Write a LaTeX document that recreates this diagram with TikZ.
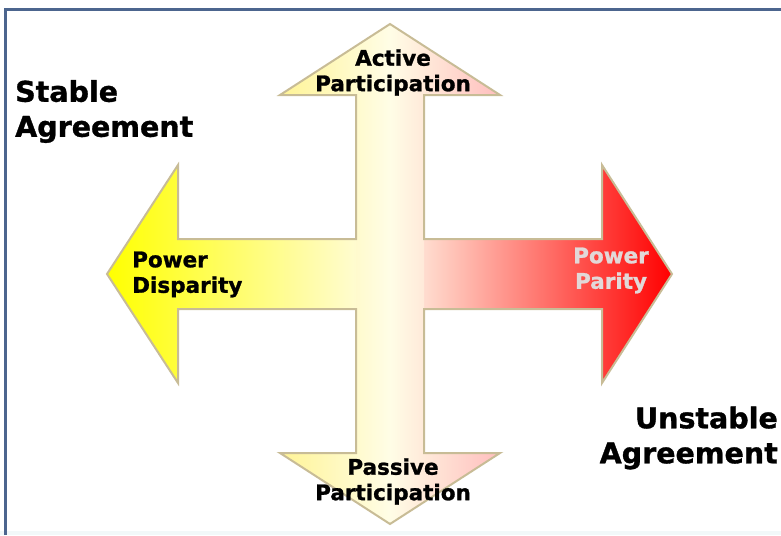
\documentclass[tikz,border=0pt]{standalone}
\usepackage{fontspec}
\setmainfont{DejaVu Sans}[BoldFeatures={FakeBold=1.2}]
\definecolor{framec}{RGB}{76,101,142}
\definecolor{edgec}{RGB}{200,188,150}
\definecolor{hleft}{RGB}{255,255,0}
\definecolor{hmid}{RGB}{255,251,236}
\definecolor{hright}{RGB}{255,0,0}
\definecolor{vleft}{RGB}{255,244,150}
\definecolor{vmid}{RGB}{255,253,230}
\definecolor{vright}{RGB}{255,190,190}
\definecolor{paritytxt}{RGB}{226,216,216}
\definecolor{bottomstrip}{RGB}{242,248,249}
\begin{document}
\begin{tikzpicture}[x=1pt,y=-1pt,
  outline/.style={draw=edgec, line width=2pt, line join=miter},
  lbl/.style={font=\bfseries\fontsize{21.5}{25.5}\selectfont, inner sep=0pt, align=center},
  big/.style={font=\bfseries\fontsize{28.5}{35}\selectfont, inner sep=0pt},
  frameline/.style={draw=framec, line width=2.5pt}]
\useasboundingbox (0,0) rectangle (781,535);
\fill[bottomstrip] (0,531) rectangle (781,535);
% horizontal arrow fill
\shade[left color=hleft, right color=hright, middle color=hmid]
  (107,274) -- (178,165) -- (178,239) -- (602,239) -- (602,165) -- (672,274)
  -- (602,383) -- (602,309) -- (178,309) -- (178,383) -- cycle;
% vertical arrow fill
\shade[left color=vleft, right color=vright, middle color=vmid]
  (390,24) -- (500,95) -- (424,95) -- (424,453) -- (500,453) -- (390,524)
  -- (280,453) -- (356,453) -- (356,95) -- (280,95) -- cycle;
% union outline
\draw[outline] (390,24) -- (500,95) -- (424,95) -- (424,239) -- (602,239) -- (602,165)
  -- (672,274) -- (602,383) -- (602,309) -- (424,309) -- (424,453) -- (500,453)
  -- (390,524) -- (280,453) -- (356,453) -- (356,309) -- (178,309) -- (178,383)
  -- (107,274) -- (178,165) -- (178,239) -- (356,239) -- (356,95) -- (280,95) -- cycle;
% frame
\draw[frameline] (5.5,535) -- (5.5,9.5) -- (781,9.5);
% labels
\node[lbl] (active) at (393,72.5) {Active\\Participation};
\node[lbl] (passive) at (393,481.5) {Passive\\Participation};
\node[lbl, align=left, anchor=west] (disparity) at (132,274.5) {Power\\Disparity};
\node[lbl, text=paritytxt] (parity) at (611,270.5) {Power\\Parity};
\node[big, align=left, anchor=west] (stable) at (15,111.5) {Stable\\Agreement};
\node[big, align=right, anchor=east] (unstable) at (778,438) {Unstable\\Agreement};
\end{tikzpicture}
\end{document}
